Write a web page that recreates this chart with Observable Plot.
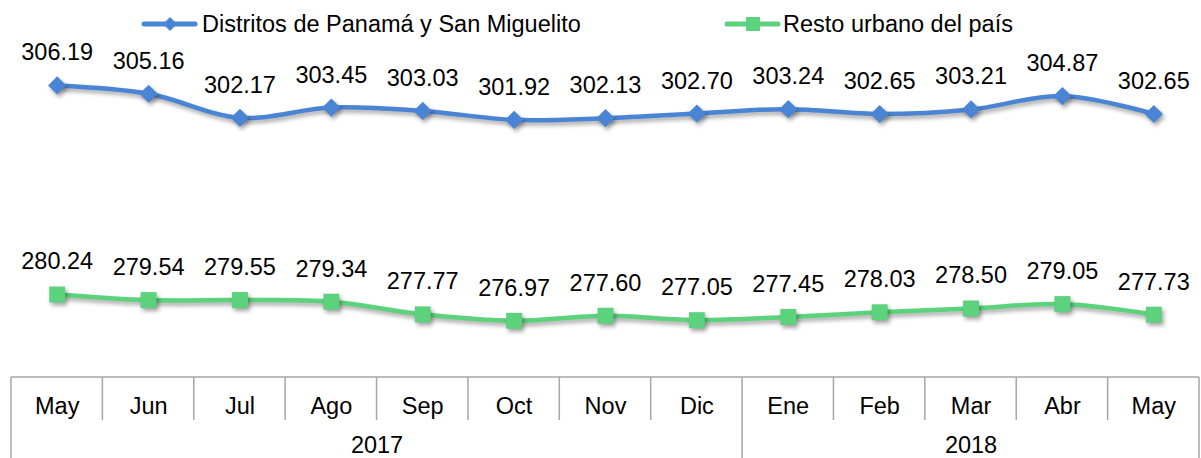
<!DOCTYPE html>
<html><head><meta charset="utf-8">
<script src="https://cdn.jsdelivr.net/npm/d3@7"></script>
<script src="https://cdn.jsdelivr.net/npm/@observablehq/plot@0.6"></script>
<style>
body{margin:0;background:#fff;}
#wrap{position:relative;width:1201px;height:458px;}
</style></head><body><div id="wrap"></div>
<script>
const months = ["May","Jun","Jul","Ago","Sep","Oct","Nov","Dic","Ene","Feb","Mar","Abr","May"];
const monthYear = ["2017","2017","2017","2017","2017","2017","2017","2017","2018","2018","2018","2018","2018"];
const years = ["2017","2018"];
const seriesNames = ["Distritos de Panamá y San Miguelito","Resto urbano del país"];
const panama = [306.19,305.16,302.17,303.45,303.03,301.92,302.13,302.70,303.24,302.65,303.21,304.87,302.65];
const resto = [280.24,279.54,279.55,279.34,277.77,276.97,277.60,277.05,277.45,278.03,278.50,279.05,277.73];
const colors = ["#4a84d4","#5cd27c"];
const symbols = ["diamond2","square"];

(function () {
const FONT = "'Liberation Sans', Arial, sans-serif";
const FS = 23.5;
const W = 1201, H = 458, MB = 81, ML = 11, MR = 2, MT = 0;

const rows = [];
[panama, resto].forEach((arr, s) => arr.forEach((v, i) => rows.push({s, i, v})));
const yearCenters = years.map(y => {
  const idx = monthYear.map((m, i) => m === y ? i : -1).filter(i => i >= 0);
  return {y, x: (idx[0] + idx[idx.length - 1]) / 2};
});

const marks = [];
[0, 1].forEach(s => {
  const d = rows.filter(r => r.s === s);
  marks.push(Plot.line(d, {x: "i", y: "v", stroke: colors[s], strokeWidth: 4.5, curve: "catmull-rom"}));
  marks.push(Plot.dot(d, {x: "i", y: "v", symbol: () => symbols[s], r: s === 0 ? 8.2 : 9, fill: colors[s], stroke: "none"}));
  marks.push(Plot.text(d, {x: "i", y: "v", text: r => r.v.toFixed(2), dy: -25, lineAnchor: "bottom", fontSize: FS, fill: "#000"}));
});
marks.push(Plot.text(months, {x: (d, i) => i, text: d => d, frameAnchor: "bottom", lineAnchor: "bottom", dy: 36, fontSize: FS, fill: "#000"}));
marks.push(Plot.text(yearCenters, {x: "x", text: "y", frameAnchor: "bottom", lineAnchor: "bottom", dy: 75, fontSize: FS, fill: "#000"}));

const plot = Plot.plot({
  width: W, height: H,
  marginTop: MT, marginBottom: MB, marginLeft: ML, marginRight: MR,
  x: {type: "linear", domain: [-0.5, months.length - 0.5], axis: null},
  y: {domain: [269.93, 316.74], axis: null},
  style: {fontFamily: FONT, fontSize: FS + "px", background: "#fff", overflow: "visible"},
  marks
});
document.getElementById("wrap").appendChild(plot);

const svg = d3.select(plot);
svg.selectAll('g[aria-label="line"], g[aria-label="dot"]').style("filter", "drop-shadow(2px 3px 2px rgba(0,0,0,0.35))");

// category table axis
const xs = plot.scale("x");
const X = v => xs.apply(v);
const y0 = H - MB;
const g = svg.append("g").attr("stroke", "#a6a6a6").attr("stroke-width", 1.5).attr("fill", "none");
g.append("line").attr("x1", X(-0.5)).attr("x2", X(months.length - 0.5)).attr("y1", y0).attr("y2", y0);
for (let k = 0; k <= months.length; k++) {
  const full = k === 0 || k === months.length || monthYear[k] !== monthYear[k - 1];
  g.append("line").attr("x1", X(k - 0.5)).attr("x2", X(k - 0.5)).attr("y1", y0).attr("y2", full ? H : y0 + 43);
}

// legend
const leg = svg.append("g");
const legPos = [{sx: 142, tx: 202}, {sx: 725, tx: 783}];
legPos.forEach((p, s) => {
  const gy = 24;
  leg.append("line").attr("x1", p.sx + 2).attr("x2", p.sx + 53).attr("y1", gy).attr("y2", gy)
    .attr("stroke", colors[s]).attr("stroke-width", 5).attr("stroke-linecap", "round");
  const cx = p.sx + 28;
  if (s === 0) {
    leg.append("path").attr("d", `M${cx},${gy-7}L${cx+7},${gy}L${cx},${gy+7}L${cx-7},${gy}Z`).attr("fill", colors[s]);
  } else {
    leg.append("rect").attr("x", cx - 7).attr("y", gy - 7).attr("width", 14).attr("height", 14).attr("fill", colors[s]);
  }
  leg.append("text").attr("x", p.tx).attr("y", 32).attr("text-anchor", "start").attr("font-size", FS).attr("font-family", FONT).attr("fill", "#000").text(seriesNames[s]);
});
})();
</script></body></html>
